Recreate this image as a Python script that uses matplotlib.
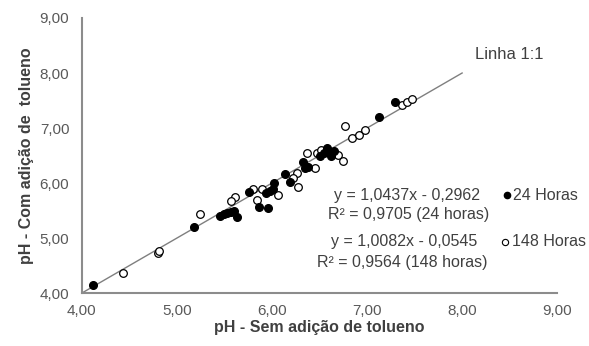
import matplotlib
matplotlib.use("Agg")
import matplotlib.pyplot as plt

plt.rcParams['font.family'] = ['Liberation Sans', 'DejaVu Sans']

# 24 horas (filled)
x24 = [4.12, 5.18, 5.45, 5.50, 5.53, 5.57, 5.60, 5.63, 5.76, 5.86, 5.96, 5.94, 5.98,
       6.02, 6.01, 6.14, 6.19, 6.33, 6.35, 6.38, 6.50, 6.55, 6.58, 6.61, 6.65, 6.62,
       7.13, 7.29]
y24 = [4.15, 5.20, 5.40, 5.43, 5.45, 5.47, 5.50, 5.38, 5.84, 5.57, 5.55, 5.82, 5.85,
       6.00, 5.90, 6.16, 6.02, 6.38, 6.27, 6.30, 6.50, 6.55, 6.64, 6.55, 6.58, 6.50,
       7.20, 7.47]
# 148 horas (open)
x148 = [4.43, 4.80, 4.81, 5.24, 5.61, 5.57, 5.80, 5.84, 5.90, 6.06, 6.27, 6.26, 6.22,
        6.37, 6.45, 6.47, 6.52, 6.69, 6.75, 6.77, 6.84, 6.91, 6.98, 7.37, 7.42, 7.47]
y148 = [4.36, 4.72, 4.77, 5.44, 5.75, 5.68, 5.89, 5.69, 5.90, 5.78, 5.93, 6.18, 6.10,
        6.55, 6.27, 6.55, 6.60, 6.51, 6.40, 7.04, 6.82, 6.87, 6.96, 7.42, 7.47, 7.52]
line_x = [4.0, 8.0]
line_y = [4.0, 8.0]
ticks = [4, 5, 6, 7, 8, 9]
tick_labels = ["4,00", "5,00", "6,00", "7,00", "8,00", "9,00"]

fig = plt.figure(figsize=(5.89, 3.46), dpi=100)
ax = fig.add_axes([0.139, 0.153, 0.807, 0.795])

ax.plot(line_x, line_y, color='#7f7f7f', lw=1.0, zorder=1)
ax.plot(x148, y148, 'o', ms=5.5, mfc='white', mec='black', mew=0.9, zorder=2)
ax.plot(x24, y24, 'o', ms=5.5, mfc='black', mec='black', zorder=3)

ax.set_xlim(4, 9)
ax.set_ylim(4, 9)
ax.set_xticks(ticks)
ax.set_xticklabels(tick_labels)
ax.set_yticks(ticks)
ax.set_yticklabels(tick_labels)
ax.tick_params(length=0, colors='#595959', labelsize=11)
ax.tick_params(axis='y', pad=9)
ax.tick_params(axis='x', pad=8)
for s in ['top', 'right']:
    ax.spines[s].set_visible(False)
for s in ['left', 'bottom']:
    ax.spines[s].set_color('#8c8c8c')
    ax.spines[s].set_linewidth(1.5)

ax.set_xlabel("pH - Sem adição de tolueno", fontsize=11.5, fontweight='bold', color='#404040', labelpad=1)
ax.set_ylabel("pH - Com adição de  tolueno", fontsize=11.5, fontweight='bold', color='#404040', labelpad=4)

ax.text(8.14, 8.33, "Linha 1:1", fontsize=12, color='#404040', va='center', ha='left')

tc = '#404040'
fs = 11.5
ax.text(7.42, 5.78, "y = 1,0437x - 0,2962", fontsize=fs, color=tc, ha='center', va='center')
ax.text(7.44, 5.42, "R² = 0,9705 (24 horas)", fontsize=fs, color=tc, ha='center', va='center')
ax.text(7.39, 4.93, "y = 1,0082x - 0,0545", fontsize=fs, color=tc, ha='center', va='center')
ax.text(7.37, 4.55, "R² = 0,9564 (148 horas)", fontsize=fs, color=tc, ha='center', va='center')

ax.plot([8.47], [5.78], 'o', ms=4.5, mfc='black', mec='black', clip_on=False)
ax.text(8.54, 5.78, "24 Horas", fontsize=fs, color=tc, ha='left', va='center')
ax.plot([8.45], [4.93], 'o', ms=4.5, mfc='white', mec='black', mew=0.8, clip_on=False)
ax.text(8.52, 4.93, "148 Horas", fontsize=fs, color=tc, ha='left', va='center', clip_on=False)

fig.savefig("out.png", dpi=100)
